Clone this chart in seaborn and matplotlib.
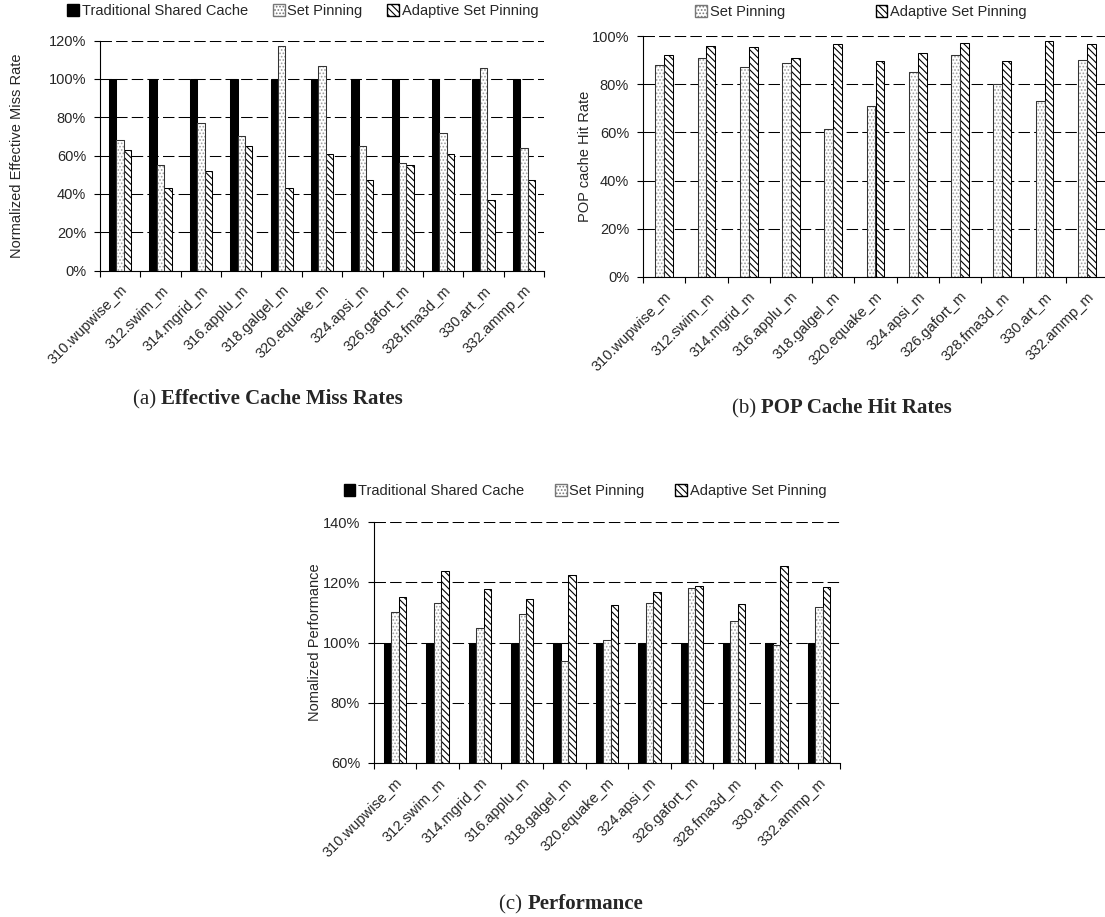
import numpy as np
import pandas as pd
import matplotlib
matplotlib.use("Agg")
import matplotlib.pyplot as plt
import seaborn as sns
from matplotlib.patches import Patch, Rectangle
from matplotlib.ticker import PercentFormatter

# benchmarks (x axis of all three panels)
benchmarks = ["310.wupwise_m", "312.swim_m", "314.mgrid_m", "316.applu_m",
              "318.galgel_m", "320.equake_m", "324.apsi_m", "326.gafort_m",
              "328.fma3d_m", "330.art_m", "332.ammp_m"]

# (a) normalized effective miss rate, %
miss_traditional = [100, 100, 100, 100, 100, 100, 100, 100, 100, 100, 100]
miss_set_pinning = [68, 55, 77, 70, 117, 107, 65, 56, 72, 106, 64]
miss_adaptive = [63, 43, 52, 65, 43, 61, 47, 55, 61, 37, 47]

# (b) POP cache hit rate, %
hit_set_pinning = [88, 91, 87, 89, 61.5, 71, 85, 92, 80, 73, 90]
hit_adaptive = [92, 96, 95.5, 91, 96.5, 89.5, 93, 97, 89.5, 98, 96.5]

# (c) normalized performance, %
perf_traditional = [100, 100, 100, 100, 100, 100, 100, 100, 100, 100, 100]
perf_set_pinning = [110, 113, 104.7, 109.3, 94, 100.8, 113, 118, 107, 99.3, 111.8]
perf_adaptive = [115, 123.8, 117.8, 114.5, 122.3, 112.4, 116.8, 118.7, 112.7, 125.3, 118.3]

TRAD, SP, ASP = "Traditional Shared Cache", "Set Pinning", "Adaptive Set Pinning"

sns.set_style("white")
plt.rcParams["font.family"] = ["Liberation Sans", "DejaVu Sans"]
plt.rcParams["hatch.linewidth"] = 0.8

FS = 10.5
DOTS = "....."
STRIPES = "\\\\\\\\\\"

fig = plt.figure(figsize=(11.05, 9.17), dpi=100)
W, H = 1105, 917


def px_axes(left, right, top, bottom):
    return fig.add_axes([left / W, 1 - bottom / H, (right - left) / W, (bottom - top) / H])


def panel(ax, series, width, ylim, yticks, ylabel, label_x):
    frames = [pd.DataFrame({"benchmark": benchmarks, "value": vals, "series": name})
              for name, vals in series]
    df = pd.concat(frames, ignore_index=True)
    names = [name for name, _ in series]
    pal = {TRAD: "black", SP: "white", ASP: "white"}
    sns.barplot(data=df, x="benchmark", y="value", hue="series", hue_order=names,
                palette=pal, width=width, saturation=1, errorbar=None,
                edgecolor="black", linewidth=0.75, legend=False, ax=ax, zorder=2)
    for cont, name in zip(ax.containers, names):
        for p in cont:
            if name == SP:
                p.set_hatch(DOTS)
                p.set_edgecolor("#a0a0a0")
                ax.add_patch(Rectangle(p.get_xy(), p.get_width(), p.get_height(),
                                       fill=False, ec="#333333", lw=0.75, zorder=3))
            elif name == ASP:
                p.set_hatch(STRIPES)
                p.set_edgecolor("black")
    ax.set_xlim(-0.5, len(benchmarks) - 0.5)
    ax.set_ylim(*ylim)
    ax.set_yticks(yticks)
    ax.yaxis.set_major_formatter(PercentFormatter(decimals=0))
    ax.yaxis.grid(True, linestyle=(0, (11, 4)), color="black", linewidth=0.75)
    ax.xaxis.grid(False)
    ax.set_axisbelow(True)
    for s in ("top", "right"):
        ax.spines[s].set_visible(False)
    for s in ("left", "bottom"):
        ax.spines[s].set_color("black")
        ax.spines[s].set_linewidth(0.8)
    ax.set_xticks(range(len(benchmarks)))
    ax.set_xticklabels(benchmarks, rotation=45, ha="right", rotation_mode="anchor",
                       fontsize=FS)
    ax.set_xticks(np.arange(-0.5, len(benchmarks)), minor=True)
    ax.tick_params(axis="x", which="major", length=0, pad=9)
    ax.tick_params(axis="x", which="minor", length=4, width=0.8, color="black",
                   direction="out", bottom=True)
    ax.tick_params(axis="y", length=4, width=0.8, color="black", direction="out",
                   left=True, pad=6, labelsize=FS)
    ax.set_xlabel("")
    ax.set_ylabel(ylabel, fontsize=FS)
    ax.yaxis.set_label_coords(label_x, 0.5)


def legend(ax, names, cx, cy, spacing):
    handles = []
    for name in names:
        if name == TRAD:
            handles.append(Patch(facecolor="black", edgecolor="black", label=name))
        elif name == SP:
            handles.append(Patch(facecolor="white", edgecolor="#777777", hatch=DOTS, label=name))
        else:
            handles.append(Patch(facecolor="white", edgecolor="black", hatch=STRIPES, label=name))
    ax.legend(handles=handles, loc="center", bbox_to_anchor=(cx / W, 1 - cy / H),
              bbox_transform=fig.transFigure, ncol=len(names), frameon=False,
              fontsize=FS, handlelength=0.8, handleheight=0.8, handletextpad=0.2,
              columnspacing=spacing, borderaxespad=0)


def caption(cx, cy, tag, title):
    # "(x)" in regular weight followed by the bold title, centred on cx
    base = 1 - (cy + 6) / H
    t1 = fig.text(0, base, tag + " ", ha="left", va="baseline",
                  family="Liberation Serif", fontsize=15)
    t2 = fig.text(0, base, title, ha="left", va="baseline",
                  family="Liberation Serif", fontsize=15, weight="bold")
    r = fig.canvas.get_renderer()
    w1 = t1.get_window_extent(r).width
    w2 = t2.get_window_extent(r).width
    x0 = cx - (w1 + w2) / 2
    t1.set_x(x0 / W)
    t2.set_x((x0 + w1) / W)


# (a)
ax_a = px_axes(100, 544, 40.7, 270.5)
panel(ax_a, [(TRAD, miss_traditional), (SP, miss_set_pinning), (ASP, miss_adaptive)],
      0.55, (0, 120), np.arange(0, 121, 20), "Normalized Effective Miss Rate", -0.172)
legend(ax_a, [TRAD, SP, ASP], 303, 11, 1.7)

# (b)
ax_b = px_axes(643, 1108, 36, 277)
panel(ax_b, [(SP, hit_set_pinning), (ASP, hit_adaptive)],
      0.42, (0, 100), np.arange(0, 101, 20), "POP cache Hit Rate", -0.109)
legend(ax_b, [SP, ASP], 861, 12, 6.2)

# (c)
ax_c = px_axes(374, 840, 522, 763)
panel(ax_c, [(TRAD, perf_traditional), (SP, perf_set_pinning), (ASP, perf_adaptive)],
      0.53, (60, 140), np.arange(60, 141, 20), "Nomalized Performance", -0.111)
legend(ax_c, [TRAD, SP, ASP], 585, 491, 2.1)

caption(268, 398, "(a)", "Effective Cache Miss Rates")
caption(842, 407, "(b)", "POP Cache Hit Rates")
caption(571, 903, "(c)", "Performance")

fig.savefig("out.png", dpi=100)
